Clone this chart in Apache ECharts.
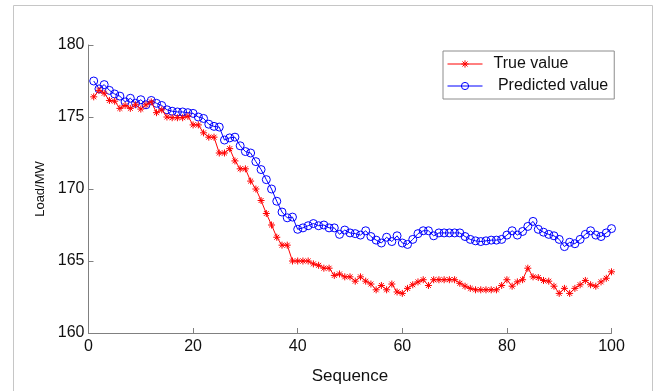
<!DOCTYPE html>
<html>
<head>
<meta charset="utf-8">
<script src="https://cdn.jsdelivr.net/npm/echarts@6/dist/echarts.min.js"></script>
<style>
html,body{margin:0;padding:0;background:#fff;}
#chart{width:656px;height:391px;}
</style>
</head>
<body>
<div id="chart"></div>
<script>
const sequence = [1,2,3,4,5,6,7,8,9,10,11,12,13,14,15,16,17,18,19,20,
21,22,23,24,25,26,27,28,29,30,31,32,33,34,35,36,37,38,39,40,
41,42,43,44,45,46,47,48,49,50,51,52,53,54,55,56,57,58,59,60,
61,62,63,64,65,66,67,68,69,70,71,72,73,74,75,76,77,78,79,80,
81,82,83,84,85,86,87,88,89,90,91,92,93,94,95,96,97,98,99,100];

const trueValue = [176.4,176.85,176.65,176.15,176.1,175.6,175.8,175.6,175.85,175.55,
175.85,176.05,175.3,175.5,175.0,174.95,174.95,174.95,175.05,174.45,
174.45,173.9,173.6,173.6,172.5,172.5,172.8,171.95,171.4,171.4,
170.55,170.0,169.2,168.3,167.5,166.65,166.1,166.1,165.0,165.0,
165.0,165.0,164.8,164.7,164.5,164.5,164.0,164.1,163.9,163.9,
163.6,163.9,163.6,163.4,163.0,163.3,163.0,163.4,162.85,162.75,
163.1,163.35,163.55,163.7,163.3,163.7,163.7,163.7,163.7,163.7,
163.45,163.25,163.1,163.0,163.0,163.0,163.0,163.0,163.3,163.7,
163.25,163.55,163.7,164.5,163.9,163.85,163.65,163.6,163.25,162.75,
163.1,162.75,163.1,163.35,163.65,163.35,163.25,163.55,163.8,164.25];

const predictedValue = [177.5,176.95,177.25,176.85,176.6,176.45,176.05,176.3,175.95,176.2,
175.85,176.15,175.95,175.8,175.5,175.4,175.35,175.35,175.3,175.25,
175.0,174.9,174.5,174.35,174.3,173.4,173.55,173.6,173.0,172.6,
172.5,171.9,171.35,170.65,170.0,169.15,168.4,168.0,168.05,167.2,
167.3,167.45,167.6,167.45,167.5,167.3,167.3,166.85,167.15,166.95,
166.9,166.8,167.1,166.7,166.45,166.25,166.65,166.35,166.75,166.25,
166.15,166.5,166.9,167.1,167.1,166.75,166.95,166.95,166.95,166.95,
166.95,166.7,166.5,166.4,166.35,166.4,166.45,166.45,166.5,166.8,
167.1,166.8,167.05,167.4,167.75,167.2,167.0,166.85,166.75,166.5,
166.0,166.3,166.2,166.5,166.85,167.1,166.8,166.7,166.95,167.25];

const seriesNames = ['True value', ' Predicted value'];
const xTicks = {min: 0, max: 100, interval: 20};
const yTicks = {min: 160, max: 180, interval: 5};

const FONT = '"Liberation Sans", Arial, sans-serif';
const asterisk = 'path://M5,0L5,10M0,5L10,5M1.5,1.5L8.5,8.5M8.5,1.5L1.5,8.5';

function pairs(ys){ return sequence.map((x,i)=>[x, ys[i]]); }

const chart = echarts.init(document.getElementById('chart'), null, {renderer:'canvas'});
chart.setOption({
  animation: false,
  backgroundColor: '#fff',
  graphic: [{
    type: 'rect',
    shape: {x: 13.5, y: 5.5, width: 639, height: 420},
    style: {fill: 'none', stroke: '#c6c6c6', lineWidth: 1},
    silent: true, z: -1
  }],
  grid: {left: 88.5, right: 44.5, top: 45, bottom: 58, containLabel: false},
  legend: {
    orient: 'vertical',
    left: 443, top: 51,
    padding: [5, 6, 5, 4],
    itemGap: 6,
    itemWidth: 35,
    itemHeight: 9,
    borderColor: '#8c8c8c',
    borderWidth: 1,
    backgroundColor: '#fff',
    lineStyle: {width: 1},
    itemStyle: {borderWidth: 1},
    textStyle: {fontFamily: FONT, fontSize: 16, color: '#111', padding: [0,0,0,6], lineHeight: 14},
    data: seriesNames
  },
  xAxis: {
    type: 'value',
    min: xTicks.min, max: xTicks.max, interval: xTicks.interval,
    name: 'Sequence', nameLocation: 'middle', nameGap: 35,
    nameTextStyle: {fontFamily: FONT, fontSize: 17, color: '#111'},
    axisLine: {lineStyle: {color: '#808080', width: 1}},
    axisTick: {inside: true, length: 5, lineStyle: {color: '#808080'}},
    axisLabel: {fontFamily: FONT, fontSize: 16, color: '#111', margin: 6},
    splitLine: {show: false}
  },
  yAxis: {
    type: 'value',
    min: yTicks.min, max: yTicks.max, interval: yTicks.interval,
    name: 'Load/MW', nameLocation: 'middle', nameGap: 36, nameRotate: 90,
    nameTextStyle: {fontFamily: FONT, fontSize: 13, color: '#111'},
    axisLine: {show: true, lineStyle: {color: '#808080', width: 1}},
    axisTick: {show: true, inside: true, length: 5, lineStyle: {color: '#808080'}},
    axisLabel: {fontFamily: FONT, fontSize: 16, color: '#111', margin: 4},
    splitLine: {show: false}
  },
  series: [
    {
      name: seriesNames[0], type: 'line', data: pairs(trueValue),
      symbol: asterisk, symbolSize: 7,
      color: '#ff0000',
      lineStyle: {color: '#ff0000', width: 1},
      itemStyle: {color: 'transparent', borderColor: '#ff0000', borderWidth: 1},
      z: 3
    },
    {
      name: seriesNames[1], type: 'line', data: pairs(predictedValue),
      symbol: 'circle', symbolSize: 8,
      color: '#0000ff',
      lineStyle: {color: '#0000ff', width: 1},
      itemStyle: {color: 'transparent', borderColor: '#0000ff', borderWidth: 1},
      z: 2
    }
  ]
});
</script>
</body>
</html>
